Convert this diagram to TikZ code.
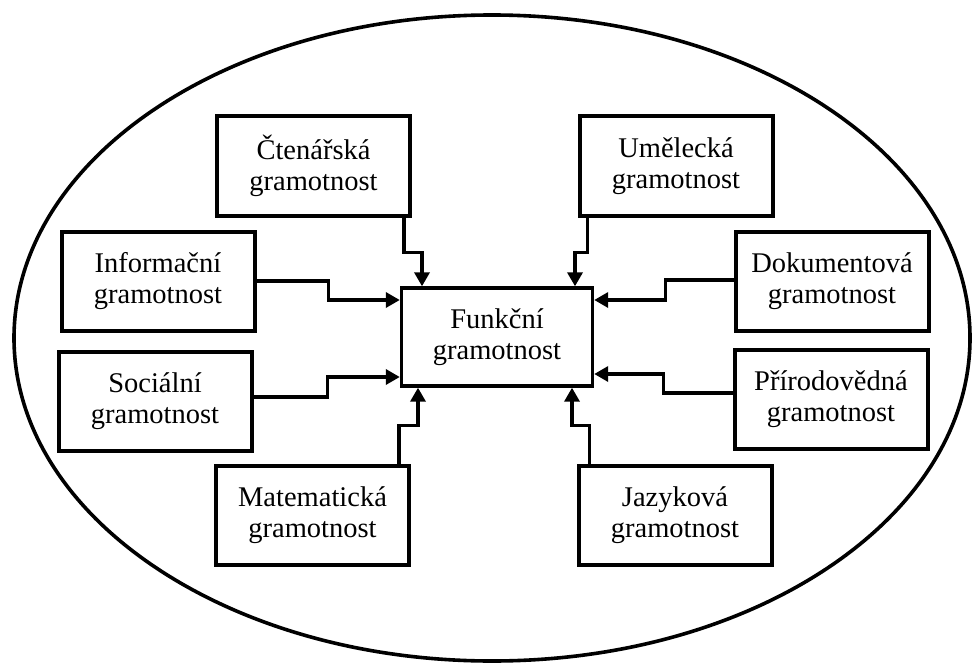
\documentclass[tikz,border=0pt]{standalone}
\usepackage{fontspec}
\setmainfont{Liberation Serif}
\usetikzlibrary{arrows.meta}
\tikzset{
  litbox/.style={draw, line width=4pt, minimum width=193pt, minimum height=99pt,
    align=center, inner sep=2pt, font=\fontsize{28.5}{31}\selectfont},
  feed/.style={line width=3.4pt, -{Triangle[length=14pt,width=15pt]}}
}
\begin{document}
\begin{tikzpicture}[x=1pt, y=-1pt]
    \useasboundingbox (0,0) rectangle (973,663);
    \draw[line width=3.6pt] (492,338) ellipse [x radius=478, y radius=323];
    \node[litbox, line width=3.4pt, minimum width=191pt, minimum height=98pt] (funk) at (497,337) {Funkční\\gramotnost};
    \node[litbox] (cten) at (313.5,166) {Čtenářská\\gramotnost};
    \node[litbox] (umel) at (676,166) {Umělecká\\gramotnost};
    \node[litbox] (info) at (158,281) {Informační\\gramotnost};
    \node[litbox] (doku) at (832,281) {Dokumentová\\gramotnost};
    \node[litbox] (soc) at (155,401) {Sociální\\gramotnost};
    \node[litbox] (prir) at (831,399) {Přírodovědná\\gramotnost};
    \node[litbox] (mat) at (312.5,515) {Matematická\\gramotnost};
    \node[litbox] (jaz) at (675,515) {Jazyková\\gramotnost};
    % top and bottom feeds
    \draw[feed] ([xshift=-8pt]cten.south east) -- ++(0,35) -| ([xshift=-75pt]funk.north);
    \draw[feed] ([xshift=10pt]umel.south west) -- ++(0,35) -| ([xshift=78pt]funk.north);
    \draw[feed] ([xshift=-12pt]mat.north east) -- ++(0,-38) -| ([xshift=-79pt]funk.south);
    \draw[feed] ([xshift=13pt]jaz.north west) -- ++(0,-38) -| ([xshift=75pt]funk.south);
    % side feeds
    \draw[feed] (info.east) -- ++(72,0) |- ([yshift=37pt]funk.west);
    \draw[feed] ([yshift=4pt]soc.east) -- ++(74,0) |- ([yshift=-40pt]funk.west);
    \draw[feed] ([yshift=1pt]doku.west) -- ++(-68,0) |- ([yshift=37pt]funk.east);
    \draw[feed] ([yshift=6pt]prir.west) -- ++(-69,0) |- ([yshift=-37pt]funk.east);
\end{tikzpicture}
\end{document}
